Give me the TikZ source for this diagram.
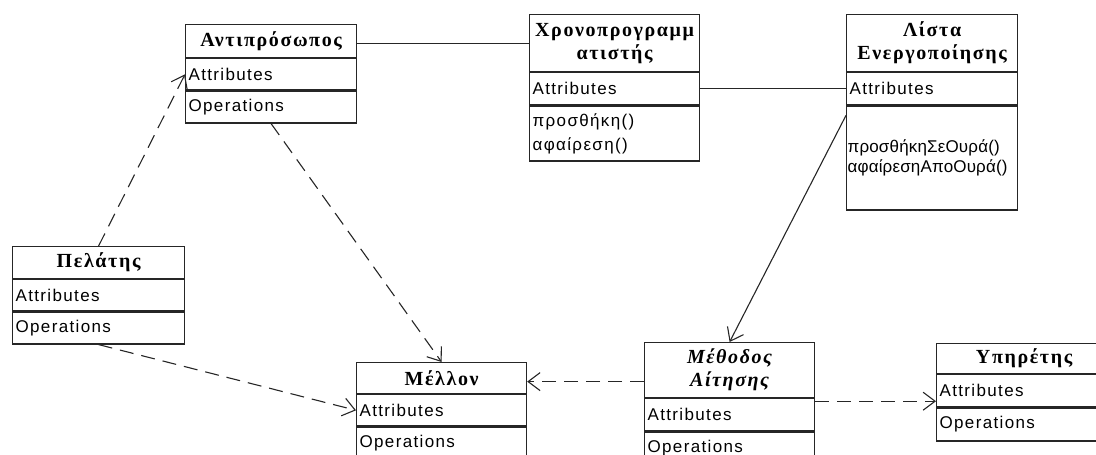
\documentclass[tikz,border=0pt]{standalone}
\usepackage{fontspec}
\setmainfont{Liberation Sans}
\newfontfamily\bodyfont[LetterSpace=8]{Liberation Sans}
\newfontfamily\tightfont[LetterSpace=1]{Liberation Sans}
\newfontfamily\headfont[LetterSpace=8]{Liberation Serif}
\usetikzlibrary{arrows.meta,calc}

\tikzset{
  boxline/.style={draw=black!85, line width=1.2pt},
  hbox/.style={boxline, inner sep=0pt, anchor=north west, align=center,
    font=\headfont\bfseries\fontsize{20}{23}\selectfont},
  cbox/.style={boxline, inner xsep=3pt, inner ysep=0pt, anchor=north west, align=left,
    font=\bodyfont\fontsize{17}{20}\selectfont},
  assoc/.style={draw=black!85, line width=1.1pt},
  depend/.style={draw=black!85, line width=1.1pt, dash pattern=on 14pt off 8pt,
    -{Straight Barb[length=12pt,width=18pt,line width=1.1pt]}},
  navig/.style={assoc, -{Straight Barb[length=12pt,width=18pt,line width=1.1pt]}}
}

% class box: name, x, y, width, header height, attribute height, operation height, header, operations
\newcommand\umlclass[9]{%
  \pgfmathsetmacro\cw{#4}%
  \pgfmathsetmacro\tw{#4-6}%
  \node[hbox, minimum width=\cw pt, text width=\cw pt, minimum height=#5pt] (#1-h) at (#2,#3) {#8};
  \node[cbox, minimum width=\cw pt, text width=\tw pt, minimum height=#6pt] (#1-a) at (#1-h.south west) {Attributes};
  \node[cbox, minimum width=\cw pt, text width=\tw pt, minimum height=#7pt] (#1-o) at (#1-a.south west) {#9};
}

\begin{document}
\begin{tikzpicture}[x=1pt, y=-1pt]
  \useasboundingbox (0,0) rectangle (1096,455);
  \clip (0,0) rectangle (1096,455);

  \umlclass{ant}{185}{24}{171}{33}{31}{32}{Αντιπρόσωπος}{Operations}
  \umlclass{chr}{529}{14}{170}{57}{32}{55}{Χρονοπρογραμμ\\ατιστής}{προσθήκη()\\[4pt]αφαίρεση()}
  \umlclass{lis}{846}{14}{171}{57}{32}{104}{Λίστα\\Ενεργοποίησης}{\tightfont\hspace*{-2pt}προσθήκηΣεΟυρά()\\\hspace*{-2pt}αφαίρεσηΑποΟυρά()}
  \umlclass{pel}{12}{246}{172}{32}{31}{32}{Πελάτης}{Operations}
  \umlclass{mel}{356}{362}{170}{31}{31}{32}{Μέλλον}{Operations}
  \umlclass{met}{644}{342}{170}{55}{32}{32}{\itshape Μέθοδος\\\itshape Αίτησης}{Operations}
  \umlclass{ypi}{936}{343}{175}{30}{32}{33}{Υπηρέτης}{Operations}

  % associations
  \draw[assoc] ([yshift=-2.5pt]ant-h.east) -- ([yshift=-2.5pt]ant-h.east -| chr-h.west);
  \draw[assoc] (chr-a.east) -- (lis-a.west);
  \draw[navig] ([yshift=-10pt]lis-o.north west) -- (met-h.north);

  % dependencies
  \draw[depend] (pel-h.north) -- (ant-a.west);
  \draw[depend] (ant-o.south) -- (mel-h.north);
  \draw[depend] (pel-o.south) -- (mel-a.west);
  \draw[depend] ([yshift=-3.5pt]mel-h.east -| met-h.west) -- ([yshift=-3.5pt]mel-h.east);
  \draw[depend] ([yshift=-3pt]met-a.north east) -- ([yshift=-3pt]met-a.north east -| ypi-a.west);
\end{tikzpicture}
\end{document}
